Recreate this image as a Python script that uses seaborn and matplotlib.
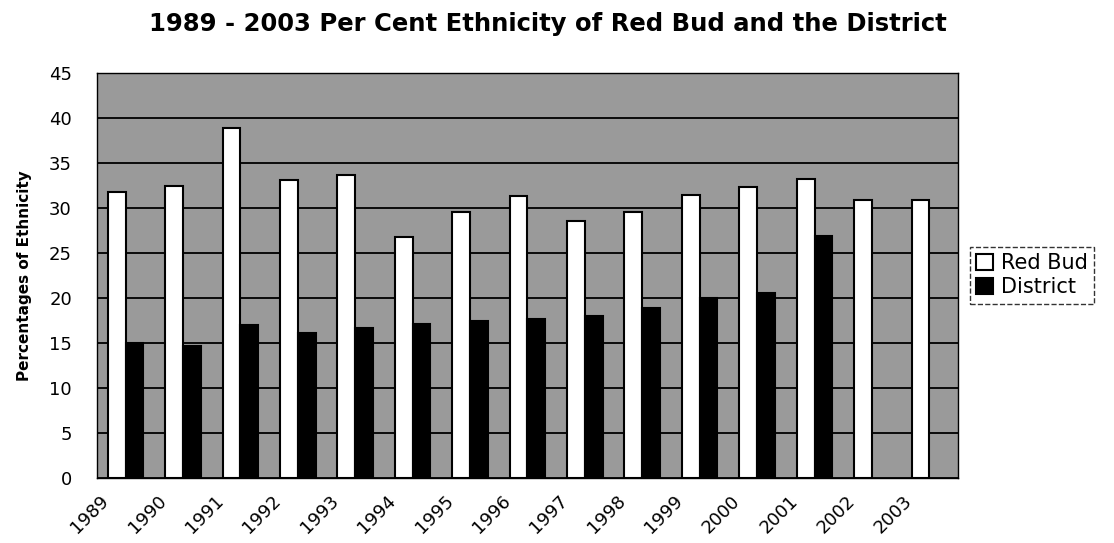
import matplotlib
matplotlib.use("Agg")
import matplotlib.pyplot as plt
import matplotlib.transforms as mtransforms
import seaborn as sns
import pandas as pd
import numpy as np

years = ["1989", "1990", "1991", "1992", "1993", "1994", "1995", "1996",
         "1997", "1998", "1999", "2000", "2001", "2002", "2003"]
red_bud = [31.8, 32.4, 38.9, 33.1, 33.6, 26.7, 29.5, 31.3, 28.5, 29.5,
           31.4, 32.3, 33.2, 30.9, 30.9]
district = [15.0, 14.7, 17.0, 16.1, 16.6, 17.1, 17.4, 17.6, 18.0, 18.9,
            20.0, 20.5, 26.9, np.nan, np.nan]
series = ["Red Bud", "District"]

df = pd.DataFrame({
    "Year": years * 2,
    "Value": red_bud + district,
    "Series": [series[0]] * len(years) + [series[1]] * len(years),
})

sns.set_theme(style="white")
plt.rcParams["font.family"] = ["DejaVu Sans"]
plt.rcParams["text.color"] = "black"
plt.rcParams["axes.labelcolor"] = "black"
plt.rcParams["xtick.color"] = "black"
plt.rcParams["ytick.color"] = "black"

fig = plt.figure(figsize=(11.14, 5.43), dpi=100)
ax = fig.add_axes([0.087, 0.12, 0.773, 0.746])
ax.set_facecolor("#9a9a9a")

sns.barplot(data=df, x="Year", y="Value", hue="Series", order=years,
            hue_order=series, palette=["white", "black"], width=0.62,
            edgecolor="black", linewidth=1.5, ax=ax, zorder=3)

ax.set_ylim(0, 45)
ax.set_yticks(range(0, 46, 5))
ax.set_xlim(-0.5, len(years) - 0.5)
ax.yaxis.grid(True, color="black", linewidth=1.3, zorder=0)
ax.set_axisbelow(True)
for s in ax.spines.values():
    s.set_color("black")
    s.set_linewidth(1.0)

ax.tick_params(axis="y", labelsize=13, length=0, pad=18)
ax.tick_params(axis="x", labelsize=13, length=0, pad=10)
offset = mtransforms.ScaledTranslation(-0.26, 0, fig.dpi_scale_trans)
for lab in ax.get_xticklabels():
    lab.set_rotation(45)
    lab.set_ha("right")
    lab.set_rotation_mode("anchor")
    lab.set_transform(lab.get_transform() + offset)
ax.set_xlabel("")
ax.set_ylabel("Percentages of Ethnicity", fontsize=11, fontweight="bold",
              labelpad=12)
fig.suptitle("1989 - 2003 Per Cent Ethnicity of Red Bud and the District",
             x=0.492, y=0.955, va="center", fontsize=17.5, fontweight="bold")

leg = ax.legend(loc="center left", bbox_to_anchor=(1.014, 0.50), fontsize=15,
                frameon=True, fancybox=False, edgecolor="black",
                handlelength=0.8, handleheight=0.8, handletextpad=0.4,
                borderpad=0.3, labelspacing=0.2, borderaxespad=0)
leg.get_frame().set_linewidth(1.0)
leg.get_frame().set_linestyle("--")

fig.savefig("out.png", dpi=100, facecolor="white")
